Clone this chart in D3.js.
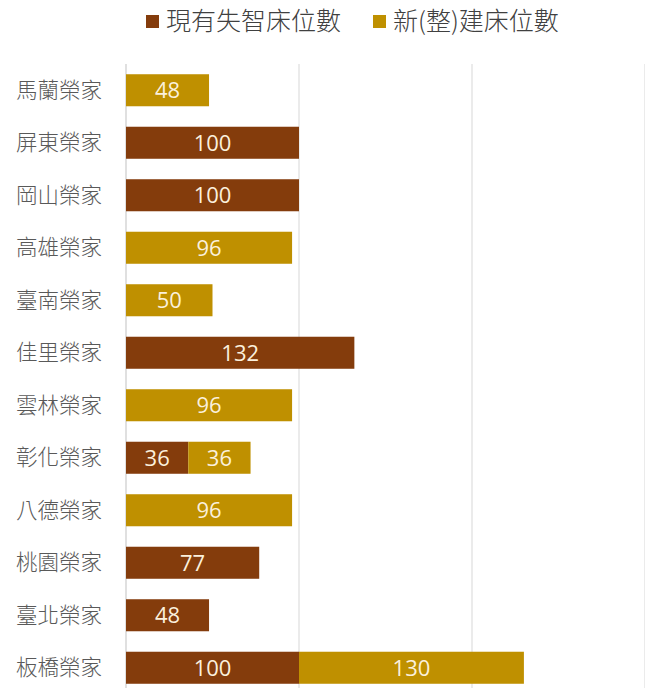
<!DOCTYPE html>
<html>
<head>
<meta charset="utf-8">
<script src="https://cdn.jsdelivr.net/npm/d3@7"></script>
<style>
body { margin: 0; background: #fff; }
text { font-family: "Noto Sans CJK TC", "Noto Sans", sans-serif; }
</style>
</head>
<body>
<svg id="chart"></svg>
<script>
const categories = ['馬蘭榮家','屏東榮家','岡山榮家','高雄榮家','臺南榮家','佳里榮家','雲林榮家','彰化榮家','八德榮家','桃園榮家','臺北榮家','板橋榮家'];
const existing = [0,100,100,0,0,132,0,36,0,77,48,100];
const newBeds = [48,0,0,96,50,0,96,36,96,0,0,130];
const seriesNames = ['現有失智床位數','新(整)建床位數'];
const colors = ['#843c0c','#bf9000'];
const gridTicks = [0,100,200,300];

const W = 645, H = 688;
const svg = d3.select('#chart').attr('width', W).attr('height', H);

let x = d3.scaleLinear().domain([0,300]).range([126,645]);
let y = d3.scaleBand().domain(categories).range([64,694]).paddingInner(0.39).paddingOuter(0.195);

// gridlines
svg.selectAll('line.grid')
  .data(gridTicks)
  .enter()
  .append('line')
  .attr('x1', d=>x(d)).attr('x2', d=>x(d))
  .attr('y1', 64).attr('y2', H)
  .style('stroke', d=>d===0 ? '#cfcfcf' : '#e0e0e0')
  .style('stroke-width', 1.3);

let rows = categories.map((c,i)=>({cat:c, vals:[existing[i], newBeds[i]]}));
let segs = [];
rows.forEach(r=>{
  let x0 = 0;
  r.vals.forEach((v,k)=>{
    if (v > 0) segs.push({cat:r.cat, x0:x0, x1:x0+v, v:v, k:k});
    x0 += v;
  });
});

svg.selectAll('rect.bar')
  .data(segs)
  .enter()
  .append('rect')
  .attr('x', d=>x(d.x0))
  .attr('y', d=>y(d.cat))
  .attr('width', d=>x(d.x1)-x(d.x0))
  .attr('height', y.bandwidth())
  .style('fill', d=>colors[d.k]);

svg.selectAll('text.val')
  .data(segs)
  .enter()
  .append('text')
  .attr('x', d=>(x(d.x0)+x(d.x1))/2)
  .attr('y', d=>y(d.cat)+y.bandwidth()/2)
  .attr('dy', '0.36em')
  .attr('text-anchor', 'middle')
  .style('font-family', '"Open Sans", sans-serif')
  .style('font-size', '22px')
  .style('fill', '#fbf0dc')
  .text(d=>d.v);

// category labels
svg.selectAll('text.cat')
  .data(categories)
  .enter()
  .append('text')
  .attr('x', 102)
  .attr('y', d=>y(d)+y.bandwidth()/2)
  .attr('dy', '0.36em')
  .attr('text-anchor', 'end')
  .style('font-size', '21.5px')
  .style('font-weight', 300)
  .style('fill', '#595959')
  .text(d=>d);

// legend
const legendX = [146, 373];
seriesNames.forEach((n,i)=>{
  svg.append('rect')
    .attr('x', legendX[i]).attr('y', 15)
    .attr('width', 13).attr('height', 13)
    .style('fill', colors[i]);
  svg.append('text')
    .attr('x', legendX[i]+20).attr('y', 21)
    .attr('dy', '0.36em')
    .style('font-size', '25px')
    .style('font-weight', 300)
    .style('fill', '#404040')
    .text(n);
});
</script>
</body>
</html>
